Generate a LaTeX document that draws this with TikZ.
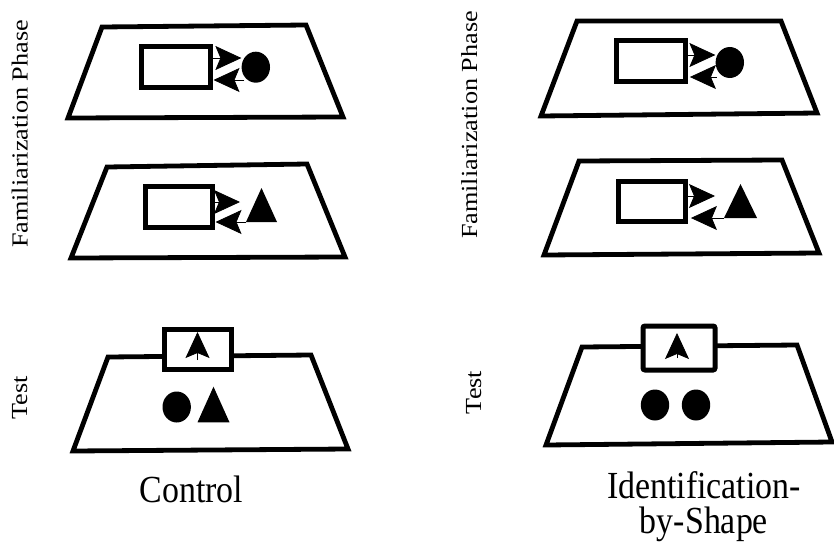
\documentclass[tikz,border=0pt]{standalone}
\usepackage{fontspec}
\setmainfont{Liberation Serif}
\usetikzlibrary{arrows.meta,shapes.geometric,calc}

\begin{document}
\begin{tikzpicture}[x=1pt,y=-1pt,
  tray/.style={line width=4.8pt, line join=miter},
  screen/.style={draw, line width=5pt, fill=white, rectangle, inner sep=0pt},
  ball/.style={fill, ellipse, inner sep=0pt, minimum width=28.4pt, minimum height=31pt},
  arr/.style={line width=0.8pt, -{Stealth[length=26pt,width=24pt,inset=5pt]}},
  lbl/.style={font=\fontsize{23}{27}\selectfont, inner sep=0pt},
  captxt/.style={font=\fontsize{33.9}{35}\selectfont, inner sep=0pt},
]
\useasboundingbox (0,0) rectangle (834,543);

% ---------- Control: familiarization with the ball ----------
\draw[tray] (102,27) -- (306,25) -- (343,117) -- (68,118) -- cycle;
\node[screen, minimum width=69pt, minimum height=41pt] (rL1) at (175.5,67) {};
\node[ball] (cL1) at (255.8,67.2) {};
\draw[arr] ($(rL1.east)+(0,-9)$) -- ($(cL1.west)+(0,-9.2)$);
\draw[arr] ($(cL1.west)+(3,12.8)$) -- ($(rL1.east)+(1,13)$);

% ---------- Control: familiarization with the block ----------
\draw[tray] (107,167) -- (307,164) -- (345,257) -- (71,258) -- cycle;
\node[screen, minimum width=67pt, minimum height=41pt] (rL2) at (178.5,207) {};
\coordinate (tL2) at (246,222);
\fill (tL2) -- ++(15.5,-34) -- ++(15.5,34) -- cycle;
\draw[arr] ($(rL2.east)+(0,-5)$) -- ($(tL2)+(-6,-20)$);
\draw[arr] (tL2) -- ($(rL2.east)+(1,15)$);

% ---------- Control: test ----------
\draw[tray] (108,357) -- (311,355) -- (348,449) -- (73,451) -- cycle;
\node[screen, minimum width=67pt, minimum height=40pt] (bL) at (198,349.5) {};
\draw[arr] ($(bL.center)+(-0.5,10.5)$) -- ($(bL.center)+(-0.5,-17.5)$);
\node[ball] (cL3) at (176.7,407) {};
\coordinate (tL3) at (197.5,422.3);
\fill (tL3) -- ++(16,-35.6) -- ++(16,35.6) -- cycle;

% ---------- Identification-by-Shape: familiarization with the ball ----------
\draw[tray] (577,21) -- (781,21) -- (817,113) -- (541,116) -- cycle;
\node[screen, minimum width=69pt, minimum height=41pt] (rR1) at (650.5,61.2) {};
\node[ball] (cR1) at (729.8,62.5) {};
\draw[arr] ($(rR1.east)+(0,-6.2)$) -- ($(cR1.west)+(0,-7.5)$);
\draw[arr] ($(cR1.west)+(1.4,14.5)$) -- ($(rR1.east)+(2.4,15.8)$);

% ---------- Identification-by-Shape: familiarization with the block ----------
\draw[tray] (579,161) -- (782,160) -- (819,253) -- (544,255) -- cycle;
\node[screen, minimum width=67pt, minimum height=40pt] (rR2) at (652.2,201.8) {};
\coordinate (tR2) at (724,218);
\fill (tR2) -- ++(16.5,-34) -- ++(16.5,34) -- cycle;
\draw[arr] ($(rR2.east)+(0,-5.8)$) -- ($(tR2)+(-9,-22)$);
\draw[arr] (tR2) -- ($(rR2.east)+(2.7,16.2)$);

% ---------- Identification-by-Shape: test ----------
\draw[tray] (582,347) -- (797,345) -- (832,442) -- (546,445) -- cycle;
\node[screen, rounded corners=2pt, minimum width=72pt, minimum height=44pt] (bR) at (679,348) {};
\draw[arr] ($(bR.center)+(-2,10)$) -- ($(bR.center)+(-2,-15)$);
\node[ball] (cR3a) at (655,405) {};
\node[ball] (cR3b) at (696,405) {};

% ---------- labels ----------
\node[lbl, rotate=90, anchor=base] (famL) at (27.7,134) {\scalebox{1.14}[1]{Familiarization Phase}};
\node[lbl, rotate=90, anchor=base] (testL) at (27,398) {\scalebox{1.14}[1]{Test}};
\node[lbl, rotate=90, anchor=base] (famR) at (477,125) {\scalebox{1.14}[1]{Familiarization Phase}};
\node[lbl, rotate=90, anchor=base] (testR) at (481,392.5) {\scalebox{1.14}[1]{Test}};

\node[captxt, anchor=base] (ctl) at (191.3,502) {\scalebox{1}[1.13]{Control}};
\node[captxt, anchor=north, align=center] (ibs) at (704,471.5)
  {\scalebox{1}[1.13]{Identification-}\\\scalebox{1}[1.13]{by-Shape}};
\end{tikzpicture}
\end{document}
